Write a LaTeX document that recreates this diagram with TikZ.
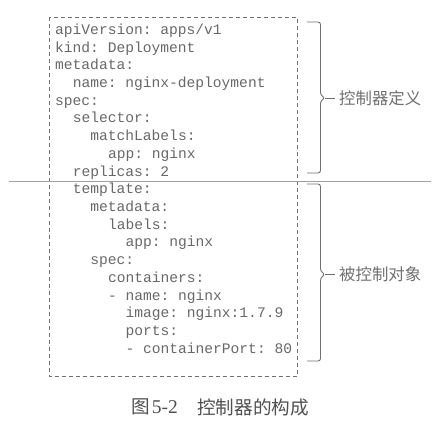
\documentclass[tikz,border=0pt]{standalone}
\usepackage{fontspec}
\setmainfont{Liberation Serif}
\setmonofont{Liberation Mono}
\newfontfamily\cjk{Noto Sans CJK SC}
\definecolor{codegray}{HTML}{686868}
\definecolor{labelgray}{HTML}{707070}
\definecolor{captiongray}{HTML}{505050}
\definecolor{linegray}{HTML}{707070}
\definecolor{rulegray}{HTML}{A0A0A0}
\begin{document}
\begin{tikzpicture}[x=1pt,y=-1pt]
\tikzset{
  code/.style={anchor=base west, font=\fontsize{14.6}{14.6}\selectfont\ttfamily, text=codegray, inner sep=0pt},
  sidelabel/.style={anchor=west, font=\fontsize{16.4}{16.4}\selectfont\cjk, text=labelgray, inner sep=0pt},
  caption/.style={anchor=west, font=\fontsize{18.6}{18.6}\selectfont\cjk, text=captiongray, inner sep=0pt},
  framebox/.style={draw=linegray, line width=0.8pt, dash pattern=on 4pt off 3pt},
  bracepath/.style={draw=linegray, line width=0.9pt, rounded corners=2.5pt},
  leader/.style={draw=linegray, line width=0.9pt},
  divider/.style={draw=rulegray, line width=0.6pt}
}
\useasboundingbox (0,0) rectangle (443,427);
% dashed frame
\draw[framebox] (49,17.5) rectangle (297,376);
% divider
\draw[divider] (9,181.5) -- (431,181.5);
% code lines
\def\cw{8.8}
\def\ly{17.7}
\foreach \n/\ind/\txt in {
  1/0/{apiVersion: apps/v1},
  2/0/{kind: Deployment},
  3/0/{metadata:},
  4/1/{name: nginx-deployment},
  5/0/{spec:},
  6/1/{selector:},
  7/2/{matchLabels:},
  8/3/{app: nginx},
  9/1/{replicas: 2},
  10/1/{template:},
  11/2/{metadata:},
  12/3/{labels:},
  13/4/{app: nginx},
  14/2/{spec:},
  15/3/{containers:},
  16/3/{- name: nginx},
  17/4/{image: nginx:1.7.9},
  18/4/{ports:},
  19/4/{- containerPort: 80}}
{
  \node[code] (l\n) at ({55+2*\cw*\ind},{34.5+\ly*(\n-1)}) {\txt};
}
% braces
\draw[bracepath] (307,22) -- (320.5,22) -- (320.5,95) -- (325,98) -- (320.5,101) -- (320.5,173) -- (307,173);
\coordinate (t1) at (325,98);
\node[sidelabel] (lab1) at (339,98) {控制器定义};
\draw[leader] (t1) -- ([xshift=-4pt]lab1.west);
\draw[bracepath] (307,184) -- (320.5,184) -- (320.5,271) -- (325,274.5) -- (320.5,278) -- (320.5,361) -- (307,361);
\coordinate (t2) at (325,274.5);
\node[sidelabel] (lab2) at (339,274.5) {被控制对象};
\draw[leader] (t2) -- ([xshift=-4pt]lab2.west);
% caption
\node[caption] (cap1) at (131,407) {图\hspace{2pt}{\fontsize{19.5}{19.5}\selectfont\rmfamily 5-2}};
\node[caption] (cap2) at (197,407) {控制器的构成};
\end{tikzpicture}
\end{document}
